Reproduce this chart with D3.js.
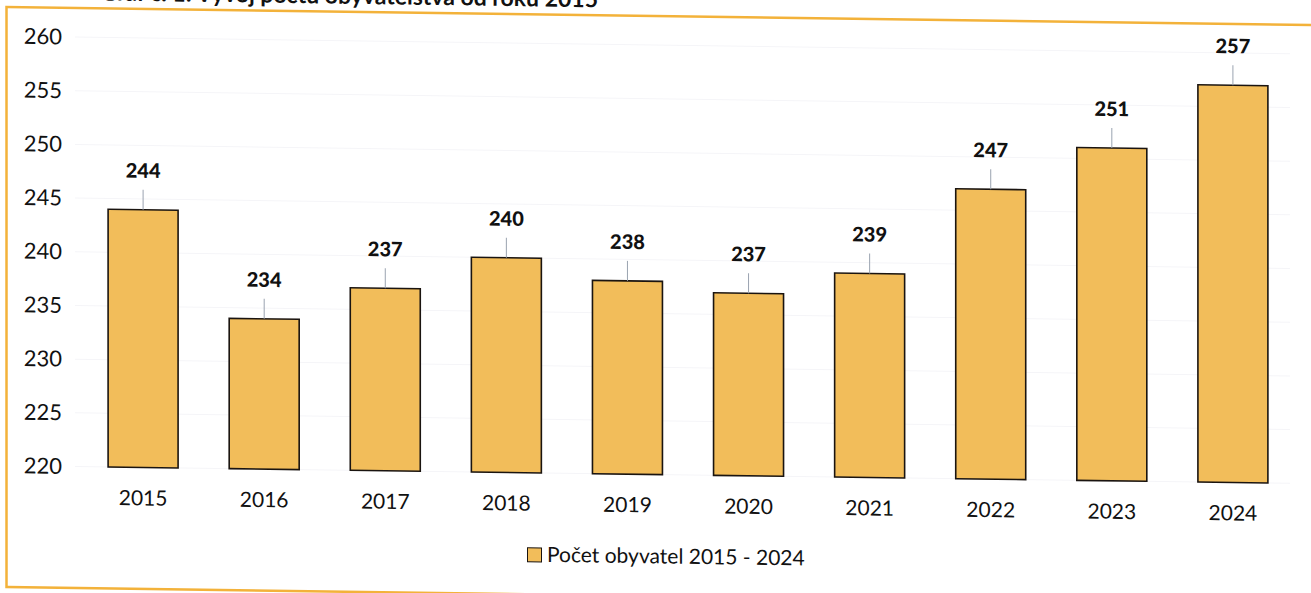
<!DOCTYPE html>
<html>
<head>
<meta charset="utf-8">
<script src="https://cdn.jsdelivr.net/npm/d3@7"></script>
<style>
  body { margin: 0; background: #fff; }
  text { font-family: Lato, "Open Sans", sans-serif; fill: #111; }
</style>
</head>
<body>
<div id="chart"></div>
<script>
var years = ["2015", "2016", "2017", "2018", "2019", "2020", "2021", "2022", "2023", "2024"];
var counts = [244, 234, 237, 240, 238, 237, 239, 247, 251, 257];
var yTicks = [220, 225, 230, 235, 240, 245, 250, 255, 260];
var seriesName = "Počet obyvatel 2015 - 2024";
var titleText = "Graf č. 1: Vývoj počtu obyvatelstva od roku 2015";

var width = 1311, height = 593;
var barColor = "#f2bd5a";

var svg = d3.select("#chart").append("svg")
    .attr("width", width)
    .attr("height", height);

// the scan is slightly sheared, so the whole drawing leans down to the right
var g = svg.append("g")
    .attr("transform", "skewY(0.79)");

var x = d3.scaleBand().domain(years).range([57, 1319]).padding(0.422);
var y = d3.scaleLinear().domain([220, 260]).range([465.5, 36]);

// frame
g.append("rect")
    .attr("x", 6.5).attr("y", 7)
    .attr("width", 1400).attr("height", 580)
    .attr("fill", "none")
    .attr("stroke", "#f3b23a")
    .attr("stroke-width", 2.5);

// title, cut off by the top edge as in the scan
g.append("text")
    .attr("x", 598).attr("y", -1)
    .attr("text-anchor", "end")
    .style("font-size", "23px")
    .style("font-weight", "bold")
    .text(titleText);

// faint grid
g.selectAll(".grid").data(yTicks).enter().append("line")
    .attr("x1", 75).attr("x2", 1290)
    .attr("y1", function(d) { return y(d); })
    .attr("y2", function(d) { return y(d); })
    .attr("stroke", "#f5f5f8")
    .attr("stroke-width", 1);

var yAxis = g.append("g")
    .attr("transform", "translate(70,0)")
    .call(d3.axisLeft(y).tickValues(yTicks).tickSize(0).tickPadding(8));
yAxis.select(".domain").remove();
yAxis.selectAll("text").style("font-size", "22px").attr("fill", "#111");

var xAxis = g.append("g")
    .attr("transform", "translate(0," + y(220) + ")")
    .call(d3.axisBottom(x).tickSize(0).tickPadding(23));
xAxis.select(".domain").remove();
xAxis.selectAll("text").style("font-size", "21px").attr("fill", "#111");

var data = years.map(function(yr, i) { return {year: yr, count: counts[i]}; });

g.selectAll(".bar").data(data).enter().append("rect")
    .attr("x", function(d) { return x(d.year); })
    .attr("y", function(d) { return y(d.count); })
    .attr("width", x.bandwidth())
    .attr("height", function(d) { return y(220) - y(d.count); })
    .attr("fill", barColor)
    .attr("stroke", "#1a1410")
    .attr("stroke-width", 1.6);

// leader lines + value labels
g.selectAll(".leader").data(data).enter().append("line")
    .attr("x1", function(d) { return x(d.year) + x.bandwidth() / 2; })
    .attr("x2", function(d) { return x(d.year) + x.bandwidth() / 2; })
    .attr("y1", function(d) { return y(d.count); })
    .attr("y2", function(d) { return y(d.count) - 20; })
    .attr("stroke", "#9aa3b0")
    .attr("stroke-width", 1);

g.selectAll(".val").data(data).enter().append("text")
    .attr("x", function(d) { return x(d.year) + x.bandwidth() / 2; })
    .attr("y", function(d) { return y(d.count) - 32; })
    .attr("text-anchor", "middle")
    .style("font-size", "20px")
    .style("font-weight", "900")
    .text(function(d) { return d.count; });

// legend
g.append("rect")
    .attr("x", 527.5).attr("y", 540.5)
    .attr("width", 14).attr("height", 14)
    .attr("fill", barColor)
    .attr("stroke", "#1a1410")
    .attr("stroke-width", 1);
g.append("text")
    .attr("x", 547).attr("y", 547)
    .attr("dy", "0.35em")
    .style("font-size", "21px")
    .text(seriesName);
</script>
</body>
</html>
